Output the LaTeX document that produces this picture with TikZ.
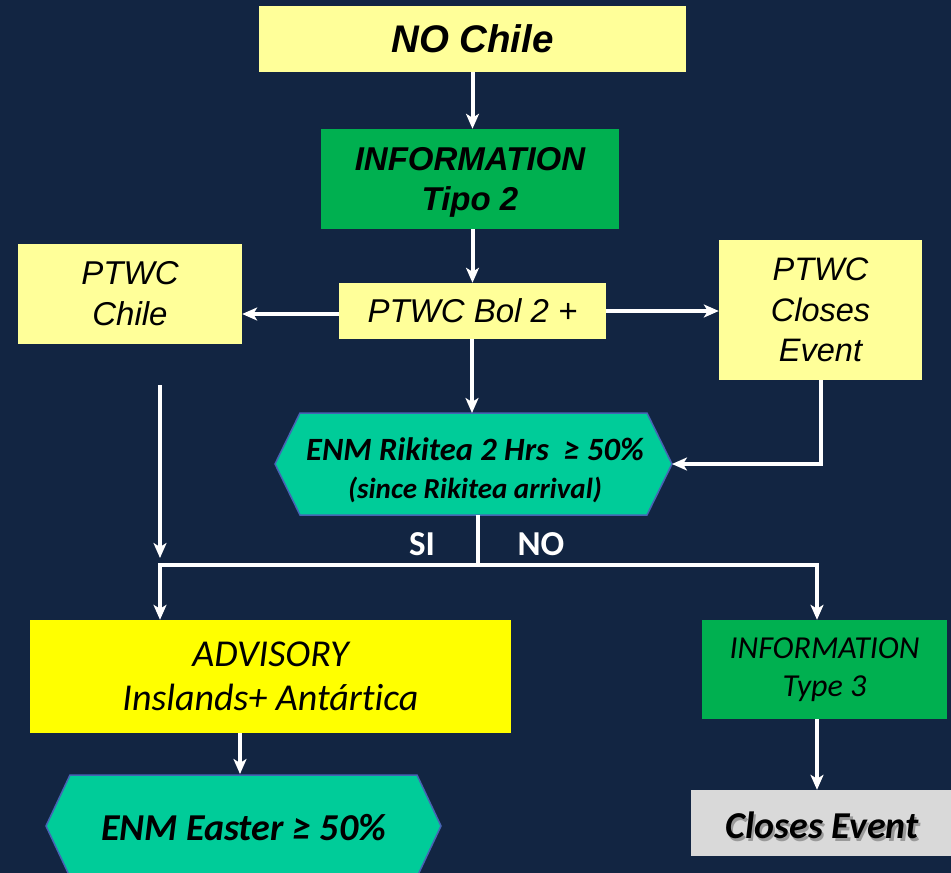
\documentclass[tikz,border=0pt]{standalone}
\usepackage{fontspec}
\setmainfont{Liberation Sans}
\newfontfamily\calfont[Ligatures=NoCommon]{Carlito}
\usetikzlibrary{arrows.meta}
\definecolor{bg}{RGB}{18,37,66}
\definecolor{lyel}{RGB}{255,255,153}
\definecolor{grn}{RGB}{0,176,80}
\definecolor{teal}{RGB}{0,204,153}
\definecolor{yel}{RGB}{255,255,0}
\definecolor{gry}{RGB}{217,217,217}
\definecolor{hexline}{RGB}{70,100,180}
\tikzset{
  box/.style={rectangle, inner sep=0pt, align=center, text=black},
  lybox/.style={box, fill=lyel},
  grbox/.style={box, fill=grn},
  hexfill/.style={fill=teal, draw=hexline, line width=1.5pt},
  wline/.style={draw=white, line width=4pt},
  arr/.style={wline, -{Stealth[length=15pt,width=13pt,inset=4pt]}},
}
\newcommand{\shadowtext}[1]{\makebox[0pt][l]{\hspace{2.5pt}\raisebox{-2.5pt}{\color{black!40}#1}}#1}
\begin{document}
\begin{tikzpicture}[x=1pt,y=-1pt]
\fill[bg] (0,0) rectangle (951,873);
\useasboundingbox (0,0) rectangle (951,873);
\clip (0,0) rectangle (951,873);

% top boxes
\node[lybox, minimum width=427pt, minimum height=66pt,
  font=\bfseries\itshape\fontsize{38.5}{44}\selectfont] (nochile) at (472.5,39) {NO Chile};
\node[grbox, minimum width=298pt, minimum height=100pt,
  font=\bfseries\itshape\fontsize{33}{40}\selectfont] (info2) at (470,179) {};
\node[box, font=\bfseries\itshape\fontsize{33}{40}\selectfont] (info2t) at (470,182) {INFORMATION\\Tipo 2};
\node[lybox, minimum width=224pt, minimum height=100pt,
  font=\itshape\fontsize{33}{41}\selectfont] (chile) at (130,294) {PTWC\\Chile};
\node[lybox, minimum width=267pt, minimum height=56pt,
  font=\itshape\fontsize{33}{38}\selectfont] (bol) at (472.5,311) {PTWC Bol 2 +};
\node[lybox, minimum width=203pt, minimum height=140pt,
  font=\itshape\fontsize{32.5}{40.5}\selectfont] (closes) at (820.5,310) {PTWC\\Closes\\Event};

% Rikitea hexagon
\path[hexfill] (275,464) -- (300,413) -- (647,413) -- (672,464) -- (647,515) -- (300,515) -- cycle;
\node[box, font=\calfont\bfseries\itshape\fontsize{32.5}{37}\selectfont] (rik) at (475,470)
  {ENM Rikitea 2 Hrs \ ≥ 50\%\\[1pt]{\fontsize{29}{30}\selectfont (since Rikitea arrival)}};

% lower boxes
\node[box, fill=yel, minimum width=481pt, minimum height=113pt,
  font=\calfont\itshape\fontsize{38}{44}\selectfont] (adv) at (270.5,676.5) {ADVISORY\\Inslands+ Antártica};
\node[grbox, minimum width=245pt, minimum height=99pt,
  font=\calfont\itshape\fontsize{32}{38}\selectfont] (info3) at (824.5,669.5) {INFORMATION\\Type 3};

% Easter hexagon
\path[hexfill] (46,826) -- (70,775) -- (417,775) -- (441,826) -- (417,877) -- (70,877) -- cycle;
\node[box, minimum width=395pt, minimum height=102pt,
  font=\calfont\bfseries\itshape\fontsize{38}{40}\selectfont] (easter) at (243.5,828) {ENM Easter ≥ 50\%};

% Closes Event grey box
\node[box, fill=gry, minimum width=270pt, minimum height=66pt,
  font=\calfont\bfseries\itshape\fontsize{38}{40}\selectfont] (closeev) at (826,823) {};
\node[box, font=\calfont\bfseries\itshape\fontsize{38}{40}\selectfont] (closetext) at (822,827) {\shadowtext{Closes Event}};

% labels
\node[box, text=white, font=\calfont\bfseries\fontsize{35}{38}\selectfont] (si) at (422,544) {SI};
\node[box, text=white, font=\calfont\bfseries\fontsize{35}{38}\selectfont] (no) at (541,544) {NO};

% connectors
\draw[arr] (nochile.south) -- (nochile.south |- info2.north);
\draw[arr] (info2.south -| bol.north) -- (bol.north);
\draw[arr] (bol.west |- 0,314) -- (chile.east |- 0,314);
\draw[arr] (bol.east) -- (closes.west |- bol.east);
\draw[arr] (bol.south -| 472,0) -- (472,413);
\draw[arr] (closes.south) |- (672,464);

\coordinate (fa) at (160,385);
\coordinate (fb) at (160,558);
\draw[arr] (fa) -- (fb);
\coordinate (rb) at (478,515);
\coordinate (jl) at (160,565);
\coordinate (jr) at (817,565);
\draw[wline] (rb) -- (rb |- jl);
\draw[wline, line cap=rect] (jl) -- (jr);
\draw[arr] (jl) -- (jl |- adv.north);
\draw[arr] (jr) -- (jr |- info3.north);
\draw[arr] (adv.south -| 240,0) -- (240,774);
\draw[arr] (info3.south -| jr) -- (jr |- closeev.north);
\end{tikzpicture}
\end{document}
